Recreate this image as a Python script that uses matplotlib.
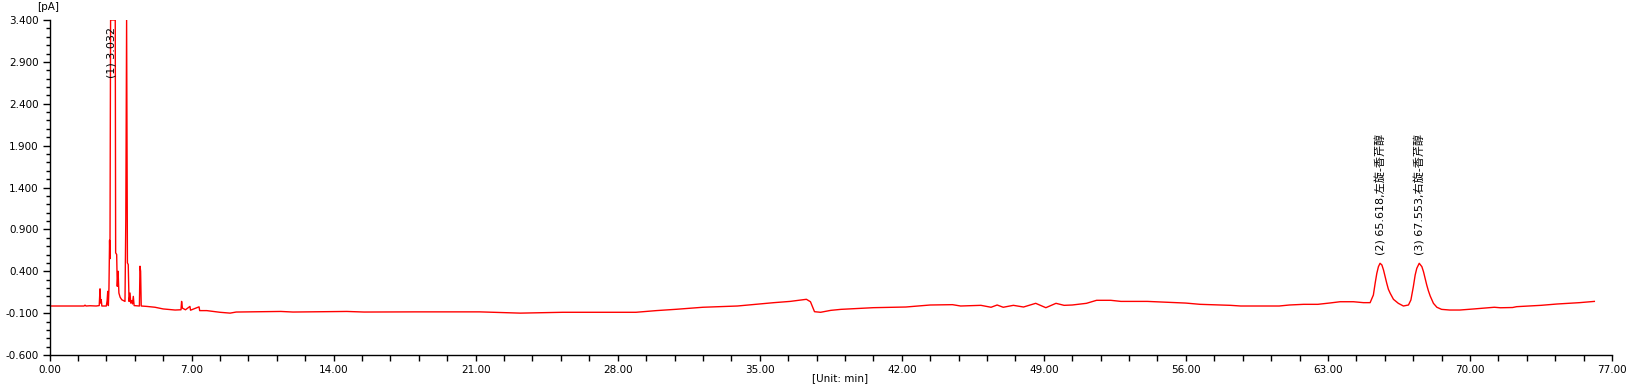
"""
GC-FID 色谱图复现 (左旋/右旋-香芹醇)
输出: out.png (1636x390)
"""
import numpy as np
import matplotlib
matplotlib.use("Agg")
import matplotlib.pyplot as plt
from matplotlib.ticker import MultipleLocator, FormatStrFormatter

plt.rcParams["font.family"] = ["DejaVu Sans", "Noto Sans CJK SC"]
plt.rcParams["axes.unicode_minus"] = False

# ── 数据: 保留时间(min) / 信号(pA) ─────────────────────────
rt_min = [
    0.00, 1.70, 1.75, 1.80, 2.00, 2.30, 2.45, 2.49, 2.52, 2.55, 2.58,
    2.80, 2.84, 2.87, 2.90, 2.93, 2.96, 2.98, 3.01, 3.24, 3.26, 3.31,
    3.34, 3.38, 3.42, 3.48, 3.56, 3.72, 3.76, 3.80, 3.84, 3.88, 3.92,
    3.97, 4.00, 4.05, 4.09, 4.13, 4.17, 4.43, 4.46, 4.49, 4.52, 4.80,
    5.20, 5.60, 6.19, 6.48, 6.51, 6.55, 6.70, 6.92, 6.95, 7.37, 7.40,
    7.75, 8.40, 8.90, 9.20, 11.4, 12.0, 14.65, 15.5, 18.0, 21.2, 23.2,
    25.3, 28.9, 29.9, 30.9, 32.2, 33.9, 35.0, 35.7, 36.5, 37.3, 37.5,
    37.7, 38.0, 38.5, 39.0, 40.6, 42.2, 43.4, 44.5, 44.9, 45.9, 46.4,
    46.7, 47.0, 47.5, 48.0, 48.6, 49.1, 49.6, 50.0, 50.4, 51.1, 51.6,
    52.3, 52.8, 54.1, 55.1, 56.0, 56.7, 58.2, 58.7, 60.6, 61.1, 61.8,
    62.5, 63.1, 63.6, 64.26, 64.75, 65.08, 65.24, 65.33, 65.41, 65.49,
    65.57, 65.66, 65.74, 65.82, 65.90, 65.98, 66.07, 66.23, 66.47, 66.72,
    66.97, 67.09, 67.21, 67.30, 67.38, 67.50, 67.63, 67.71, 67.79, 67.87,
    67.95, 68.04, 68.20, 68.37, 68.60, 69.0, 69.5, 70.2, 71.2, 71.5,
    72.1, 72.3, 73.5, 74.3, 75.4, 76.13,
]
signal_pa = [
    -0.015, -0.015, -0.005, -0.015, -0.012, -0.015, -0.010, 0.19, 0.02, 0.06, -0.015,
    -0.015, 0.05, 0.16, -0.01, 0.20, 0.77, 0.55, 3.60, 3.60, 0.62, 0.60,
    0.22, 0.40, 0.14, 0.09, 0.06, 0.04, 1.02, 3.60, 0.50, 0.48, 0.04,
    0.14, 0.02, 0.05, 0.01, 0.10, -0.01, -0.015, 0.46, 0.40, -0.015, -0.02,
    -0.03, -0.05, -0.063, -0.06, 0.04, -0.04, -0.06, -0.02, -0.065, -0.025, -0.07,
    -0.07, -0.09, -0.10, -0.087, -0.08, -0.087, -0.08, -0.087, -0.085, -0.085, -0.10,
    -0.09, -0.09, -0.07, -0.054, -0.03, -0.015, 0.009, 0.025, 0.04, 0.065, 0.036,
    -0.083, -0.09, -0.067, -0.055, -0.035, -0.027, -0.003, 0.001, -0.015, -0.007, -0.03,
    -0.003, -0.03, -0.007, -0.027, 0.017, -0.035, 0.017, -0.007, -0.003, 0.017, 0.053,
    0.053, 0.04, 0.04, 0.03, 0.02, 0.005, -0.007, -0.015, -0.015, -0.003, 0.005,
    0.005, 0.021, 0.036, 0.036, 0.025, 0.025, 0.116, 0.26, 0.375, 0.455,
    0.495, 0.475, 0.415, 0.335, 0.256, 0.185, 0.137, 0.065, 0.017, -0.015,
    -0.003, 0.057, 0.216, 0.355, 0.435, 0.495, 0.455, 0.395, 0.316, 0.236,
    0.168, 0.105, 0.017, -0.03, -0.055, -0.063, -0.063, -0.05, -0.03, -0.036,
    -0.033, -0.023, -0.007, 0.009, 0.025, 0.04,
]

# 峰标注
peak_rt = [3.032, 65.618, 67.553]
peak_text = ["(1) 3.032", "(2) 65.618,左旋-香芹醇", "(3) 67.553,右旋-香芹醇"]
label_y = [2.71, 0.59, 0.59]

Y_MIN, Y_MAX = -0.6, 3.4
X_MIN, X_MAX = 0.0, 77.0

# ── 绘图 ─────────────────────────────────────────────────────
fig = plt.figure(figsize=(16.36, 3.90), dpi=100)
ax = fig.add_axes([49.5 / 1636, 35 / 390, (1612 - 49.5) / 1636, 335 / 390])

sig = np.clip(np.array(signal_pa), None, Y_MAX)   # 检测器显示饱和(平顶)
ax.plot(rt_min, sig, color="#ff0000", lw=1.0)

for x, t, y in zip(peak_rt, peak_text, label_y):
    ax.text(x, y, t, rotation=90, ha="center", va="bottom", fontsize=8, color="black")

ax.set_xlim(X_MIN, X_MAX)
ax.set_ylim(Y_MIN, Y_MAX)
for s in ["top", "right"]:
    ax.spines[s].set_visible(False)
for s in ["left", "bottom"]:
    ax.spines[s].set_linewidth(1.0)

ax.xaxis.set_major_locator(MultipleLocator(7))
ax.xaxis.set_minor_locator(MultipleLocator(1.4))
ax.yaxis.set_major_locator(MultipleLocator(0.5))
ax.yaxis.set_minor_locator(MultipleLocator(0.1))
ax.set_yticks(np.arange(Y_MIN, Y_MAX + 0.01, 0.5))
ax.xaxis.set_major_formatter(FormatStrFormatter("%.2f"))
ax.yaxis.set_major_formatter(FormatStrFormatter("%.3f"))
ax.tick_params(axis="both", which="major", labelsize=7.5, direction="out", width=1.0)
ax.tick_params(axis="x", which="major", length=4, pad=3)
ax.tick_params(axis="x", which="minor", length=4, width=1.0)
ax.tick_params(axis="y", which="major", length=5, pad=3)
ax.tick_params(axis="y", which="minor", length=3, width=1.0)

fig.text(48 / 1636, 1 - 7 / 390, "[pA]", ha="center", va="center", fontsize=7.5)
fig.text(840 / 1636, 1 - 378 / 390, "[Unit: min]", ha="center", va="center", fontsize=7.5)

fig.savefig("out.png", dpi=100)
plt.close(fig)
